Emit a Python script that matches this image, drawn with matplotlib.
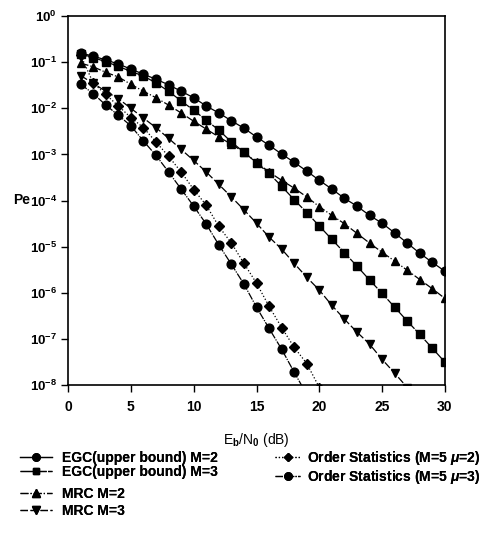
import numpy as np
import matplotlib
matplotlib.use("Agg")
import matplotlib.pyplot as plt

plt.rcParams['font.family'] = ['Liberation Sans', 'DejaVu Sans']
plt.rcParams['font.weight'] = 'bold'
plt.rcParams['mathtext.fontset'] = 'custom'
plt.rcParams['mathtext.rm'] = 'Liberation Sans:bold'
plt.rcParams['mathtext.it'] = 'Liberation Sans:bold:italic'
plt.rcParams['mathtext.bf'] = 'Liberation Sans:bold'

# Eb/N0 in dB, values read as log10(Pe)
snr = np.arange(1, 31)
egc_m2 = [-0.80, -0.87, -0.95, -1.04, -1.15, -1.26, -1.37, -1.49, -1.63, -1.77,
          -1.95, -2.10, -2.27, -2.43, -2.62, -2.80, -2.99, -3.17, -3.36, -3.56,
          -3.75, -3.95, -4.12, -4.32, -4.49, -4.70, -4.92, -5.14, -5.34, -5.53]
egc_m3 = [-0.82, -0.90, -0.99, -1.09, -1.20, -1.30, -1.45, -1.63, -1.84, -2.04,
          -2.26, -2.47, -2.73, -2.95, -3.18, -3.41, -3.69, -3.98, -4.26, -4.55,
          -4.84, -5.13, -5.42, -5.72, -6.01, -6.31, -6.61, -6.90, -7.20, -7.50]
mrc_m2 = [-1.02, -1.10, -1.22, -1.32, -1.48, -1.63, -1.77, -1.93, -2.10, -2.28,
          -2.45, -2.62, -2.78, -2.95, -3.17, -3.38, -3.56, -3.73, -3.92, -4.13,
          -4.32, -4.50, -4.71, -4.92, -5.12, -5.31, -5.51, -5.71, -5.91, -6.12]
snr_mrc3 = np.arange(1, 28)
mrc_m3 = [-1.29, -1.46, -1.63, -1.79, -2.00, -2.21, -2.42, -2.65, -2.89, -3.13,
          -3.38, -3.65, -3.92, -4.20, -4.49, -4.79, -5.05, -5.36, -5.66, -5.94,
          -6.27, -6.57, -6.85, -7.11, -7.44, -7.74, -8.05]
snr_os2 = np.arange(1, 21)
os_mu2 = [-0.85, -1.45, -1.70, -1.95, -2.20, -2.42, -2.73, -3.04, -3.38, -3.76,
          -4.10, -4.56, -4.92, -5.36, -5.79, -6.29, -6.75, -7.18, -7.53, -8.05]
snr_os3 = np.arange(1, 20)
os_mu3 = [-1.48, -1.68, -1.93, -2.15, -2.38, -2.71, -3.02, -3.38, -3.75, -4.12,
          -4.51, -4.96, -5.38, -5.81, -6.31, -6.77, -7.22, -7.72, -8.20]

series = [
    (snr, egc_m2, 'o', '-', 6.3, 'EGC(upper bound) M=2'),
    (snr, egc_m3, 's', (0, (10, 1)), 5.8, 'EGC(upper bound) M=3'),
    (snr, mrc_m2, '^', '-.', 6.3, 'MRC M=2'),
    (snr_mrc3, mrc_m3, 'v', (0, (6, 2)), 6.3, 'MRC M=3'),
    (snr_os2, os_mu2, 'D', ':', 5.0, 'Order Statistics (M=5 $\\mu$=2)'),
    (snr_os3, os_mu3, 'o', (0, (6, 1, 1, 1)), 6.3, 'Order Statistics (M=5 $\\mu$=3)'),
]

fig = plt.figure(figsize=(4.9, 5.35), dpi=100)
ax = fig.add_axes([0.139, 0.280, 0.769, 0.690])

handles = []
for x, y, m, ls, ms, lab in series:
    h, = ax.plot(x, 10.0 ** np.array(y), marker=m, linestyle=ls, color='black',
                 markersize=ms, linewidth=0.9, label=lab)
    handles.append(h)

ax.set_yscale('log')
ax.set_ylim(1e-8, 1)
ax.set_xlim(0, 30)
ax.set_xticks([0, 5, 10, 15, 20, 25, 30])
ax.set_yticks([10.0 ** -k for k in range(0, 9)])
ax.yaxis.set_minor_locator(matplotlib.ticker.NullLocator())
ax.tick_params(axis='both', direction='out', length=5, width=1.0, labelsize=10, pad=6)
ax.tick_params(axis='y', labelsize=9.5, pad=3)
for s in ax.spines.values():
    s.set_linewidth(1.2)

ax.set_xlabel('E$_\\mathrm{b}$/N$_0$ (dB)', fontsize=10, labelpad=12)
fig.text(0.062, 0.626, 'Pe', fontsize=10, ha='right', va='center', fontweight='bold')

# legend entries placed one by one (rows are unevenly spaced in the original)
left_rows = [458, 472, 494, 511]
right_rows = [458, 477]
for h, yp in zip(handles[:4], left_rows):
    lg = fig.legend([h], [h.get_label()], loc='center left',
                    bbox_to_anchor=(20 / 490, 1 - yp / 535), frameon=False,
                    fontsize=10, handlelength=2.3, handletextpad=0.7,
                    markerscale=0.85, borderpad=0, borderaxespad=0)
    fig.add_artist(lg)
for h, yp in zip(handles[4:], right_rows):
    lg = fig.legend([h], [h.get_label()], loc='center left',
                    bbox_to_anchor=(275 / 490, 1 - yp / 535), frameon=False,
                    fontsize=10, handlelength=1.8, handletextpad=0.5,
                    markerscale=0.85, borderpad=0, borderaxespad=0)
    fig.add_artist(lg)

fig.savefig('out.png', dpi=100)
